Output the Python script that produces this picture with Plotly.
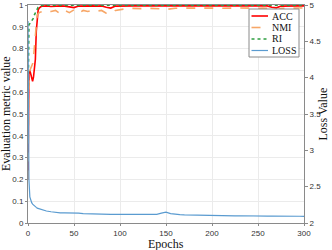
import plotly.graph_objects as go

epochs = [0, 1, 2, 3, 4, 5, 6, 7, 8, 9, 10, 11, 12, 13, 14, 15, 16, 18,
          20, 25, 30, 35, 40, 45, 50, 55, 60, 65, 70, 75, 80, 85, 90, 95, 100,
          105, 110, 115, 120, 125, 130, 135, 140, 145, 150, 155, 160, 165, 170,
          175, 180, 185, 190, 195, 200, 205, 210, 215, 220, 225, 230, 235, 240,
          245, 250, 255, 260, 265, 270, 275, 280, 285, 290, 295, 300]

acc = [0.20, 0.69, 0.70, 0.68, 0.655, 0.65, 0.67, 0.70, 0.75, 0.88, 0.95, 0.975, 0.985, 0.99, 0.992, 0.994, 0.995, 0.995,
       0.996, 0.993, 0.996, 0.996, 0.995, 0.990, 0.988, 0.995, 0.996, 0.996, 0.996, 0.995, 0.996, 0.990, 0.986, 0.995, 0.996,
       0.996, 0.996, 0.996, 0.996, 0.996, 0.996, 0.996, 0.996, 0.995, 0.994, 0.996, 0.996, 0.996, 0.996,
       0.996, 0.996, 0.996, 0.996, 0.996, 0.996, 0.996, 0.996, 0.996, 0.996, 0.996, 0.996, 0.996, 0.996,
       0.996, 0.996, 0.996, 0.996, 0.990, 0.987, 0.995, 0.996, 0.996, 0.996, 0.996, 0.996]

nmi = [0.20, 0.65, 0.70, 0.71, 0.72, 0.73, 0.76, 0.82, 0.88, 0.93, 0.955, 0.96, 0.965, 0.967, 0.968, 0.97, 0.97, 0.972,
       0.975, 0.970, 0.975, 0.960, 0.975, 0.965, 0.978, 0.962, 0.975, 0.970, 0.976, 0.972, 0.975, 0.962, 0.960, 0.975, 0.980,
       0.982, 0.985, 0.984, 0.985, 0.983, 0.985, 0.985, 0.984, 0.982, 0.980, 0.984, 0.985, 0.985, 0.986,
       0.985, 0.986, 0.985, 0.986, 0.985, 0.986, 0.985, 0.986, 0.986, 0.985, 0.986, 0.986, 0.985, 0.986,
       0.986, 0.985, 0.986, 0.985, 0.978, 0.975, 0.985, 0.986, 0.986, 0.985, 0.986, 0.986]

ri = [0.52, 0.91, 0.915, 0.92, 0.925, 0.93, 0.94, 0.955, 0.965, 0.975, 0.985, 0.99, 0.993, 0.995, 0.997, 0.998, 0.999, 0.999,
      0.999, 0.999, 0.999, 0.999, 0.999, 0.999, 0.999, 0.999, 0.999, 0.999, 0.999, 0.999, 0.999, 0.999, 0.999, 0.999, 0.999,
      0.999, 0.999, 0.999, 0.999, 0.999, 0.999, 0.999, 0.999, 0.999, 0.999, 0.999, 0.999, 0.999, 0.999,
      0.999, 0.999, 0.999, 0.999, 0.999, 0.999, 0.999, 0.999, 0.999, 0.999, 0.999, 0.999, 0.999, 0.999,
      0.999, 0.999, 0.999, 0.999, 0.999, 0.999, 0.999, 0.999, 0.999, 0.999, 0.999, 0.999]

loss = [4.78, 2.60, 2.36, 2.31, 2.28, 2.26, 2.245, 2.235, 2.225, 2.215, 2.205, 2.2, 2.195, 2.19, 2.185, 2.18, 2.175, 2.17,
        2.165, 2.155, 2.145, 2.14, 2.138, 2.14, 2.135, 2.135, 2.13, 2.13, 2.128, 2.125, 2.122, 2.12, 2.12, 2.118, 2.118,
        2.12, 2.118, 2.115, 2.115, 2.115, 2.113, 2.115, 2.12, 2.135, 2.15, 2.13, 2.12, 2.115, 2.112,
        2.11, 2.108, 2.106, 2.105, 2.104, 2.103, 2.102, 2.103, 2.1, 2.1, 2.099, 2.1, 2.098, 2.097,
        2.098, 2.096, 2.097, 2.095, 2.096, 2.094, 2.095, 2.093, 2.094, 2.092, 2.093, 2.092]

series_names = ["ACC", "NMI", "RI", "LOSS"]
x_ticks = [0, 50, 100, 150, 200, 250, 300]
left_ticks = [0, 0.1, 0.2, 0.3, 0.4, 0.5, 0.6, 0.7, 0.8, 0.9, 1]
right_ticks = [2, 2.5, 3, 3.5, 4, 4.5, 5]
x_title = "Epochs"
y_title = "Evaluation metric value"
y2_title = "Loss Value"

serif = "Liberation Serif, Times New Roman, serif"
sans = "Liberation Sans, Arial, sans-serif"
axis_col = "#8a8a8a"
grid_col = "#ebebeb"
tick_font = dict(family=sans, size=8, color="#333")
styles = [dict(color="#ff0000", width=1.6, dash="solid"),
          dict(color="#f7a768", width=1.6, dash="dash"),
          dict(color="#2e9e40", width=1.6, dash="dot"),
          dict(color="#5a9bd0", width=1.2, dash="solid")]

W, H = 332, 250
ML, MR, MT, MB = 28, 28, 5, 27
PW, PH = W - ML - MR, H - MT - MB


def px(xp):
    return (xp - ML) / PW


def py(yp):
    return (H - MB - yp) / PH


fig = go.Figure()
for name, ys, st in zip(series_names, [acc, nmi, ri, loss], styles):
    fig.add_trace(go.Scatter(x=epochs, y=ys, name=name, mode="lines",
                             yaxis="y2" if name == "LOSS" else "y",
                             line=st, showlegend=False, hoverinfo="skip"))

# legend box drawn in paper coordinates
shapes = [dict(type="rect", xref="paper", yref="paper",
               x0=px(249), x1=px(299), y0=py(57), y1=py(9),
               fillcolor="white", line=dict(color=axis_col, width=1), layer="above")]
annotations = []
item_y = [16, 27.5, 39, 50.5]
for name, st, yy in zip(series_names, styles, item_y):
    shapes.append(dict(type="line", xref="paper", yref="paper",
                       x0=px(251.5), x1=px(268), y0=py(yy), y1=py(yy),
                       line=st, layer="above"))
    annotations.append(dict(xref="paper", yref="paper", x=px(270), y=py(yy),
                            xanchor="left", yanchor="middle", showarrow=False,
                            text=name, font=dict(family=serif, size=10, color="#111")))

title_font = dict(family=serif, size=12, color="#111")
annotations += [
    dict(xref="paper", yref="paper", x=px(166), y=py(244), text=x_title,
         xanchor="center", yanchor="middle", showarrow=False, font=title_font),
    dict(xref="paper", yref="paper", x=px(6), y=py(114), text=y_title, textangle=-90,
         xanchor="center", yanchor="middle", showarrow=False, font=title_font),
    dict(xref="paper", yref="paper", x=px(322.5), y=py(114), text=y2_title, textangle=-90,
         xanchor="center", yanchor="middle", showarrow=False, font=title_font),
]

fig.update_layout(
    width=W, height=H,
    margin=dict(l=ML, r=MR, t=MT, b=MB),
    paper_bgcolor="white", plot_bgcolor="white",
    xaxis=dict(range=[0, 300], tickvals=x_ticks, showgrid=True, gridcolor=grid_col,
               showline=True, linecolor=axis_col, mirror=True, zeroline=False,
               ticks="outside", ticklen=2, tickcolor=axis_col, automargin=False,
               tickfont=tick_font),
    yaxis=dict(range=[0, 1], tickvals=left_ticks, showgrid=True, gridcolor=grid_col,
               showline=True, linecolor=axis_col, zeroline=False,
               ticks="outside", ticklen=2, tickcolor=axis_col, automargin=False,
               tickfont=tick_font),
    yaxis2=dict(range=[2, 5], tickvals=right_ticks, overlaying="y", side="right",
                showgrid=False, showline=True, linecolor=axis_col, zeroline=False,
                ticks="outside", ticklen=3, tickcolor=axis_col, automargin=False,
                tickfont=tick_font),
    shapes=shapes,
    annotations=annotations,
    showlegend=False,
    hovermode=False,
)

fig.write_html("out.html", config={"displayModeBar": False},
               post_script="document.body.style.margin='0';")
